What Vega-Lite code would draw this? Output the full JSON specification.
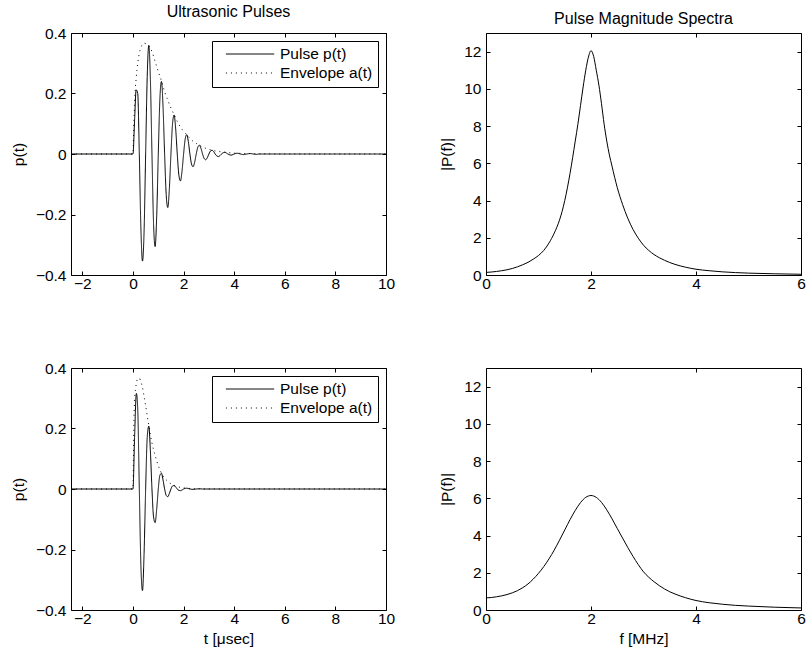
{
  "$schema": "https://vega.github.io/schema/vega-lite/v6.json",
  "background": "white",
  "padding": {"left": 10, "top": 3, "right": 0, "bottom": 0},
  "config": {
    "font": "Liberation Sans",
    "view": {"stroke": "black", "strokeWidth": 1},
    "axis": {"grid": false, "domain": false, "ticks": true, "tickSize": -4, "tickColor": "black", "tickWidth": 1,
      "labelFlush": false, "labelOverlap": false,
      "labelFont": "Liberation Sans", "labelFontSize": 15.5, "labelColor": "black",
      "titleFont": "Liberation Sans", "titleFontSize": 15.5, "titleFontWeight": "normal", "titleColor": "black"},
    "axisX": {"labelPadding": 5, "titlePadding": 5},
    "axisY": {"labelPadding": 9, "titlePadding": 9},
    "title": {"font": "Liberation Sans", "fontSize": 16, "fontWeight": "normal", "color": "black", "offset": 6},
    "legend": {"orient": "top-right", "offset": 8, "strokeColor": "black", "fillColor": "white", "padding": 5,
      "labelFont": "Liberation Sans", "labelFontSize": 15.5, "labelColor": "black", "labelLimit": 300,
      "symbolType": "M0.12,0H6.56", "symbolSize": 225, "symbolStrokeWidth": 1, "symbolStrokeColor": "black",
      "symbolFillColor": "transparent", "labelOffset": 47, "rowPadding": 2}
  },
  "datasets": {
    "pulseTop": [
      {"t": -2.45, "v": 0, "s": "Pulse p(t)"}, {"t": 0, "v": 0, "s": "Pulse p(t)"},
      {"t": 0.0625, "v": 0.11, "s": "Pulse p(t)"}, {"t": 0.125, "v": 0.212, "s": "Pulse p(t)"},
      {"t": 0.1875, "v": 0.2, "s": "Pulse p(t)"}, {"t": 0.25, "v": 0, "s": "Pulse p(t)"},
      {"t": 0.3125, "v": -0.245, "s": "Pulse p(t)"}, {"t": 0.375, "v": -0.354, "s": "Pulse p(t)"},
      {"t": 0.4375, "v": -0.259, "s": "Pulse p(t)"}, {"t": 0.5, "v": 0, "s": "Pulse p(t)"},
      {"t": 0.5625, "v": 0.256, "s": "Pulse p(t)"}, {"t": 0.625, "v": 0.359, "s": "Pulse p(t)"},
      {"t": 0.6875, "v": 0.248, "s": "Pulse p(t)"}, {"t": 0.75, "v": 0, "s": "Pulse p(t)"},
      {"t": 0.8125, "v": -0.229, "s": "Pulse p(t)"}, {"t": 0.875, "v": -0.306, "s": "Pulse p(t)"},
      {"t": 0.9375, "v": -0.204, "s": "Pulse p(t)"}, {"t": 1.0, "v": 0, "s": "Pulse p(t)"},
      {"t": 1.0625, "v": 0.18, "s": "Pulse p(t)"}, {"t": 1.125, "v": 0.24, "s": "Pulse p(t)"},
      {"t": 1.1875, "v": 0.157, "s": "Pulse p(t)"}, {"t": 1.25, "v": 0, "s": "Pulse p(t)"},
      {"t": 1.3125, "v": -0.134, "s": "Pulse p(t)"}, {"t": 1.375, "v": -0.177, "s": "Pulse p(t)"},
      {"t": 1.4375, "v": -0.115, "s": "Pulse p(t)"}, {"t": 1.5, "v": 0, "s": "Pulse p(t)"},
      {"t": 1.5625, "v": 0.099, "s": "Pulse p(t)"}, {"t": 1.625, "v": 0.129, "s": "Pulse p(t)"},
      {"t": 1.6875, "v": 0.083, "s": "Pulse p(t)"}, {"t": 1.75, "v": 0, "s": "Pulse p(t)"},
      {"t": 1.8125, "v": -0.069, "s": "Pulse p(t)"}, {"t": 1.875, "v": -0.089, "s": "Pulse p(t)"},
      {"t": 1.9375, "v": -0.057, "s": "Pulse p(t)"}, {"t": 2.0, "v": 0, "s": "Pulse p(t)"},
      {"t": 2.0625, "v": 0.049, "s": "Pulse p(t)"}, {"t": 2.125, "v": 0.064, "s": "Pulse p(t)"},
      {"t": 2.1875, "v": 0.041, "s": "Pulse p(t)"}, {"t": 2.25, "v": 0, "s": "Pulse p(t)"},
      {"t": 2.3125, "v": -0.033, "s": "Pulse p(t)"}, {"t": 2.375, "v": -0.042, "s": "Pulse p(t)"},
      {"t": 2.4375, "v": -0.027, "s": "Pulse p(t)"}, {"t": 2.5, "v": 0, "s": "Pulse p(t)"},
      {"t": 2.5625, "v": 0.0226, "s": "Pulse p(t)"}, {"t": 2.625, "v": 0.029, "s": "Pulse p(t)"},
      {"t": 2.6875, "v": 0.0184, "s": "Pulse p(t)"}, {"t": 2.75, "v": 0, "s": "Pulse p(t)"},
      {"t": 2.8125, "v": -0.0148, "s": "Pulse p(t)"}, {"t": 2.875, "v": -0.019, "s": "Pulse p(t)"},
      {"t": 2.9375, "v": -0.012, "s": "Pulse p(t)"}, {"t": 3.0, "v": 0, "s": "Pulse p(t)"},
      {"t": 3.0625, "v": 0.0099, "s": "Pulse p(t)"}, {"t": 3.125, "v": 0.0125, "s": "Pulse p(t)"},
      {"t": 3.1875, "v": 0.0078, "s": "Pulse p(t)"}, {"t": 3.25, "v": 0, "s": "Pulse p(t)"},
      {"t": 3.3125, "v": -0.0064, "s": "Pulse p(t)"}, {"t": 3.375, "v": -0.0085, "s": "Pulse p(t)"},
      {"t": 3.4375, "v": -0.0054, "s": "Pulse p(t)"}, {"t": 3.5, "v": 0, "s": "Pulse p(t)"},
      {"t": 3.625, "v": 0.0057, "s": "Pulse p(t)"}, {"t": 3.75, "v": 0, "s": "Pulse p(t)"},
      {"t": 3.875, "v": -0.0038, "s": "Pulse p(t)"}, {"t": 4.0, "v": 0, "s": "Pulse p(t)"},
      {"t": 4.125, "v": 0.0025, "s": "Pulse p(t)"}, {"t": 4.25, "v": 0, "s": "Pulse p(t)"},
      {"t": 4.375, "v": -0.002, "s": "Pulse p(t)"}, {"t": 4.5, "v": 0, "s": "Pulse p(t)"},
      {"t": 4.625, "v": 0.0016, "s": "Pulse p(t)"}, {"t": 4.75, "v": 0, "s": "Pulse p(t)"},
      {"t": 4.875, "v": -0.0012, "s": "Pulse p(t)"}, {"t": 5.0, "v": 0, "s": "Pulse p(t)"},
      {"t": 10, "v": 0, "s": "Pulse p(t)"},
      {"t": -2.45, "v": 0, "s": "Envelope a(t)"}, {"t": 0, "v": 0, "s": "Envelope a(t)"},
      {"t": 0.03, "v": 0.09, "s": "Envelope a(t)"}, {"t": 0.0625, "v": 0.17, "s": "Envelope a(t)"},
      {"t": 0.125, "v": 0.25, "s": "Envelope a(t)"}, {"t": 0.1875, "v": 0.3, "s": "Envelope a(t)"},
      {"t": 0.25, "v": 0.333, "s": "Envelope a(t)"}, {"t": 0.3125, "v": 0.352, "s": "Envelope a(t)"},
      {"t": 0.375, "v": 0.362, "s": "Envelope a(t)"}, {"t": 0.4375, "v": 0.366, "s": "Envelope a(t)"},
      {"t": 0.5, "v": 0.365, "s": "Envelope a(t)"}, {"t": 0.5625, "v": 0.362, "s": "Envelope a(t)"},
      {"t": 0.625, "v": 0.358, "s": "Envelope a(t)"}, {"t": 0.6875, "v": 0.35, "s": "Envelope a(t)"},
      {"t": 0.75, "v": 0.338, "s": "Envelope a(t)"}, {"t": 0.875, "v": 0.306, "s": "Envelope a(t)"},
      {"t": 1.0, "v": 0.272, "s": "Envelope a(t)"}, {"t": 1.125, "v": 0.242, "s": "Envelope a(t)"},
      {"t": 1.25, "v": 0.206, "s": "Envelope a(t)"}, {"t": 1.375, "v": 0.178, "s": "Envelope a(t)"},
      {"t": 1.5, "v": 0.152, "s": "Envelope a(t)"}, {"t": 1.625, "v": 0.13, "s": "Envelope a(t)"},
      {"t": 1.75, "v": 0.108, "s": "Envelope a(t)"}, {"t": 1.875, "v": 0.089, "s": "Envelope a(t)"},
      {"t": 2.0, "v": 0.075, "s": "Envelope a(t)"}, {"t": 2.125, "v": 0.064, "s": "Envelope a(t)"},
      {"t": 2.25, "v": 0.052, "s": "Envelope a(t)"}, {"t": 2.375, "v": 0.042, "s": "Envelope a(t)"},
      {"t": 2.5, "v": 0.035, "s": "Envelope a(t)"}, {"t": 2.625, "v": 0.029, "s": "Envelope a(t)"},
      {"t": 2.75, "v": 0.023, "s": "Envelope a(t)"}, {"t": 2.875, "v": 0.019, "s": "Envelope a(t)"},
      {"t": 3.0, "v": 0.0155, "s": "Envelope a(t)"}, {"t": 3.25, "v": 0.01, "s": "Envelope a(t)"},
      {"t": 3.5, "v": 0.007, "s": "Envelope a(t)"}, {"t": 3.75, "v": 0.0046, "s": "Envelope a(t)"},
      {"t": 4.0, "v": 0.003, "s": "Envelope a(t)"}, {"t": 4.5, "v": 0.0015, "s": "Envelope a(t)"},
      {"t": 5.0, "v": 0.0007, "s": "Envelope a(t)"}, {"t": 6.0, "v": 0.0001, "s": "Envelope a(t)"},
      {"t": 10, "v": 0, "s": "Envelope a(t)"}
    ],
    "pulseBottom": [
      {"t": -2.45, "v": 0, "s": "Pulse p(t)"}, {"t": 0, "v": 0, "s": "Pulse p(t)"},
      {"t": 0.0625, "v": 0.17, "s": "Pulse p(t)"}, {"t": 0.135, "v": 0.316, "s": "Pulse p(t)"},
      {"t": 0.1875, "v": 0.265, "s": "Pulse p(t)"}, {"t": 0.25, "v": 0, "s": "Pulse p(t)"},
      {"t": 0.3125, "v": -0.252, "s": "Pulse p(t)"}, {"t": 0.375, "v": -0.336, "s": "Pulse p(t)"},
      {"t": 0.4375, "v": -0.216, "s": "Pulse p(t)"}, {"t": 0.5, "v": 0, "s": "Pulse p(t)"},
      {"t": 0.5625, "v": 0.17, "s": "Pulse p(t)"}, {"t": 0.625, "v": 0.208, "s": "Pulse p(t)"},
      {"t": 0.6875, "v": 0.126, "s": "Pulse p(t)"}, {"t": 0.75, "v": 0, "s": "Pulse p(t)"},
      {"t": 0.8125, "v": -0.092, "s": "Pulse p(t)"}, {"t": 0.875, "v": -0.111, "s": "Pulse p(t)"},
      {"t": 0.9375, "v": -0.066, "s": "Pulse p(t)"}, {"t": 1.0, "v": 0, "s": "Pulse p(t)"},
      {"t": 1.0625, "v": 0.045, "s": "Pulse p(t)"}, {"t": 1.125, "v": 0.052, "s": "Pulse p(t)"},
      {"t": 1.1875, "v": 0.03, "s": "Pulse p(t)"}, {"t": 1.25, "v": 0, "s": "Pulse p(t)"},
      {"t": 1.3125, "v": -0.021, "s": "Pulse p(t)"}, {"t": 1.375, "v": -0.0255, "s": "Pulse p(t)"},
      {"t": 1.4375, "v": -0.0148, "s": "Pulse p(t)"}, {"t": 1.5, "v": 0, "s": "Pulse p(t)"},
      {"t": 1.5625, "v": 0.0099, "s": "Pulse p(t)"}, {"t": 1.625, "v": 0.0115, "s": "Pulse p(t)"},
      {"t": 1.6875, "v": 0.0067, "s": "Pulse p(t)"}, {"t": 1.75, "v": 0, "s": "Pulse p(t)"},
      {"t": 1.8125, "v": -0.0046, "s": "Pulse p(t)"}, {"t": 1.875, "v": -0.0054, "s": "Pulse p(t)"},
      {"t": 1.9375, "v": -0.0032, "s": "Pulse p(t)"}, {"t": 2.0, "v": 0, "s": "Pulse p(t)"},
      {"t": 2.125, "v": 0.0026, "s": "Pulse p(t)"}, {"t": 2.25, "v": 0, "s": "Pulse p(t)"},
      {"t": 2.375, "v": -0.0012, "s": "Pulse p(t)"}, {"t": 2.5, "v": 0, "s": "Pulse p(t)"},
      {"t": 2.625, "v": 0.0006, "s": "Pulse p(t)"}, {"t": 2.75, "v": 0, "s": "Pulse p(t)"},
      {"t": 10, "v": 0, "s": "Pulse p(t)"},
      {"t": -2.45, "v": 0, "s": "Envelope a(t)"}, {"t": 0, "v": 0, "s": "Envelope a(t)"},
      {"t": 0.03, "v": 0.2, "s": "Envelope a(t)"}, {"t": 0.0625, "v": 0.29, "s": "Envelope a(t)"},
      {"t": 0.125, "v": 0.345, "s": "Envelope a(t)"}, {"t": 0.1875, "v": 0.364, "s": "Envelope a(t)"},
      {"t": 0.25, "v": 0.366, "s": "Envelope a(t)"}, {"t": 0.3125, "v": 0.354, "s": "Envelope a(t)"},
      {"t": 0.375, "v": 0.336, "s": "Envelope a(t)"}, {"t": 0.4375, "v": 0.306, "s": "Envelope a(t)"},
      {"t": 0.5, "v": 0.276, "s": "Envelope a(t)"}, {"t": 0.5625, "v": 0.242, "s": "Envelope a(t)"},
      {"t": 0.625, "v": 0.21, "s": "Envelope a(t)"}, {"t": 0.6875, "v": 0.179, "s": "Envelope a(t)"},
      {"t": 0.75, "v": 0.152, "s": "Envelope a(t)"}, {"t": 0.8125, "v": 0.13, "s": "Envelope a(t)"},
      {"t": 0.875, "v": 0.111, "s": "Envelope a(t)"}, {"t": 0.9375, "v": 0.093, "s": "Envelope a(t)"},
      {"t": 1.0, "v": 0.077, "s": "Envelope a(t)"}, {"t": 1.0625, "v": 0.064, "s": "Envelope a(t)"},
      {"t": 1.125, "v": 0.052, "s": "Envelope a(t)"}, {"t": 1.25, "v": 0.036, "s": "Envelope a(t)"},
      {"t": 1.375, "v": 0.0255, "s": "Envelope a(t)"}, {"t": 1.5, "v": 0.017, "s": "Envelope a(t)"},
      {"t": 1.625, "v": 0.0115, "s": "Envelope a(t)"}, {"t": 1.75, "v": 0.008, "s": "Envelope a(t)"},
      {"t": 1.875, "v": 0.0054, "s": "Envelope a(t)"}, {"t": 2.0, "v": 0.0037, "s": "Envelope a(t)"},
      {"t": 2.25, "v": 0.0018, "s": "Envelope a(t)"}, {"t": 2.5, "v": 0.0008, "s": "Envelope a(t)"},
      {"t": 3.0, "v": 0.0002, "s": "Envelope a(t)"}, {"t": 10, "v": 0, "s": "Envelope a(t)"}
    ],
    "specTop": [
      {"f": 0.0, "m": 0.14}, {"f": 0.1, "m": 0.16}, {"f": 0.2, "m": 0.19}, {"f": 0.3, "m": 0.23},
      {"f": 0.4, "m": 0.28}, {"f": 0.5, "m": 0.35}, {"f": 0.6, "m": 0.44}, {"f": 0.7, "m": 0.55},
      {"f": 0.8, "m": 0.68}, {"f": 0.9, "m": 0.85}, {"f": 1.0, "m": 1.05}, {"f": 1.1, "m": 1.32},
      {"f": 1.2, "m": 1.72}, {"f": 1.3, "m": 2.25}, {"f": 1.4, "m": 2.95}, {"f": 1.45, "m": 3.42},
      {"f": 1.5, "m": 4.0}, {"f": 1.55, "m": 4.68}, {"f": 1.6, "m": 5.45}, {"f": 1.65, "m": 6.3},
      {"f": 1.7, "m": 7.2}, {"f": 1.75, "m": 8.1}, {"f": 1.8, "m": 9.1}, {"f": 1.85, "m": 10.1},
      {"f": 1.9, "m": 11.0}, {"f": 1.95, "m": 11.7}, {"f": 2.0, "m": 12.05}, {"f": 2.05, "m": 11.75},
      {"f": 2.1, "m": 11.0}, {"f": 2.15, "m": 10.2}, {"f": 2.2, "m": 9.2}, {"f": 2.25, "m": 8.1},
      {"f": 2.3, "m": 7.2}, {"f": 2.35, "m": 6.45}, {"f": 2.4, "m": 5.85}, {"f": 2.45, "m": 5.25},
      {"f": 2.5, "m": 4.7}, {"f": 2.6, "m": 3.8}, {"f": 2.7, "m": 3.05}, {"f": 2.8, "m": 2.45},
      {"f": 2.9, "m": 1.98}, {"f": 3.0, "m": 1.6}, {"f": 3.1, "m": 1.32}, {"f": 3.2, "m": 1.1},
      {"f": 3.3, "m": 0.93}, {"f": 3.4, "m": 0.79}, {"f": 3.5, "m": 0.67}, {"f": 3.6, "m": 0.57},
      {"f": 3.8, "m": 0.42}, {"f": 4.0, "m": 0.31}, {"f": 4.25, "m": 0.23}, {"f": 4.5, "m": 0.17},
      {"f": 4.75, "m": 0.13}, {"f": 5.0, "m": 0.1}, {"f": 5.5, "m": 0.065}, {"f": 6.0, "m": 0.04}
    ],
    "specBottom": [
      {"f": 0.0, "m": 0.65}, {"f": 0.1, "m": 0.67}, {"f": 0.2, "m": 0.71}, {"f": 0.3, "m": 0.76},
      {"f": 0.4, "m": 0.83}, {"f": 0.5, "m": 0.92}, {"f": 0.6, "m": 1.04}, {"f": 0.7, "m": 1.2},
      {"f": 0.8, "m": 1.4}, {"f": 0.9, "m": 1.66}, {"f": 1.0, "m": 1.97}, {"f": 1.1, "m": 2.33},
      {"f": 1.2, "m": 2.75}, {"f": 1.3, "m": 3.22}, {"f": 1.4, "m": 3.75}, {"f": 1.5, "m": 4.3},
      {"f": 1.6, "m": 4.85}, {"f": 1.7, "m": 5.35}, {"f": 1.8, "m": 5.77}, {"f": 1.9, "m": 6.05},
      {"f": 2.0, "m": 6.15}, {"f": 2.1, "m": 6.05}, {"f": 2.2, "m": 5.78}, {"f": 2.3, "m": 5.38},
      {"f": 2.4, "m": 4.9}, {"f": 2.5, "m": 4.38}, {"f": 2.6, "m": 3.87}, {"f": 2.7, "m": 3.36},
      {"f": 2.8, "m": 2.88}, {"f": 2.9, "m": 2.44}, {"f": 3.0, "m": 2.05}, {"f": 3.1, "m": 1.76},
      {"f": 3.2, "m": 1.52}, {"f": 3.3, "m": 1.31}, {"f": 3.4, "m": 1.13}, {"f": 3.5, "m": 0.98},
      {"f": 3.6, "m": 0.86}, {"f": 3.8, "m": 0.66}, {"f": 4.0, "m": 0.51}, {"f": 4.25, "m": 0.39},
      {"f": 4.5, "m": 0.31}, {"f": 4.75, "m": 0.25}, {"f": 5.0, "m": 0.21}, {"f": 5.5, "m": 0.15},
      {"f": 6.0, "m": 0.11}
    ]
  },
  "columns": 2,
  "spacing": {"row": 93, "column": 100},
  "bounds": "flush",
  "resolve": {"scale": {"strokeDash": "independent"}, "legend": {"strokeDash": "independent"}},
  "concat": [
    {
      "width": 315, "height": 242,
      "title": "Ultrasonic Pulses",
      "data": {"name": "pulseTop"},
      "layer": [
        {
          "transform": [{"filter": "datum.s === 'Pulse p(t)'"}],
          "mark": {"type": "line", "interpolate": "monotone", "strokeWidth": 1, "color": "black", "clip": true},
          "encoding": {
            "x": {"field": "t", "type": "quantitative", "scale": {"domain": [-2.45, 10], "nice": false, "zero": false},
              "axis": {"orient": "bottom", "values": [-2, 0, 2, 4, 6, 8, 10], "title": null}},
            "y": {"field": "v", "type": "quantitative", "scale": {"domain": [-0.4, 0.4], "nice": false},
              "axis": {"orient": "left", "values": [-0.4, -0.2, 0, 0.2, 0.4], "format": ".1~f", "title": "p(t)"}},
            "strokeDash": {"field": "s", "type": "nominal", "scale": {"domain": ["Pulse p(t)", "Envelope a(t)"], "range": [[1, 0], [1, 4]]},
              "legend": {"title": null}}
          }
        },
        {
          "transform": [{"filter": "datum.s === 'Envelope a(t)'"}],
          "mark": {"type": "line", "interpolate": "monotone", "strokeWidth": 1, "color": "black", "clip": true},
          "encoding": {
            "x": {"field": "t", "type": "quantitative", "axis": {"orient": "top", "values": [-2, 0, 2, 4, 6, 8, 10], "labels": false, "title": null}},
            "y": {"field": "v", "type": "quantitative", "axis": {"orient": "right", "values": [-0.4, -0.2, 0, 0.2, 0.4], "labels": false, "title": null}},
            "strokeDash": {"field": "s", "type": "nominal", "legend": {"title": null}}
          }
        }
      ],
      "resolve": {"axis": {"x": "independent", "y": "independent"}}
    },
    {
      "width": 315, "height": 242,
      "title": "Pulse Magnitude Spectra",
      "data": {"name": "specTop"},
      "layer": [
        {
          "mark": {"type": "line", "interpolate": "monotone", "strokeWidth": 1, "color": "black", "clip": true},
          "encoding": {
            "x": {"field": "f", "type": "quantitative", "scale": {"domain": [0, 6], "nice": false},
              "axis": {"orient": "bottom", "values": [0, 2, 4, 6], "title": null}},
            "y": {"field": "m", "type": "quantitative", "scale": {"domain": [0, 13], "nice": false},
              "axis": {"orient": "left", "values": [0, 2, 4, 6, 8, 10, 12], "title": "|P(f)|"}}
          }
        },
        {
          "mark": {"type": "line", "interpolate": "monotone", "opacity": 0},
          "encoding": {
            "x": {"field": "f", "type": "quantitative", "axis": {"orient": "top", "values": [0, 2, 4, 6], "labels": false, "title": null}},
            "y": {"field": "m", "type": "quantitative", "axis": {"orient": "right", "values": [0, 2, 4, 6, 8, 10, 12], "labels": false, "title": null}}
          }
        }
      ],
      "resolve": {"axis": {"x": "independent", "y": "independent"}}
    },
    {
      "width": 315, "height": 242,
      "data": {"name": "pulseBottom"},
      "layer": [
        {
          "transform": [{"filter": "datum.s === 'Pulse p(t)'"}],
          "mark": {"type": "line", "interpolate": "monotone", "strokeWidth": 1, "color": "black", "clip": true},
          "encoding": {
            "x": {"field": "t", "type": "quantitative", "scale": {"domain": [-2.45, 10], "nice": false, "zero": false},
              "axis": {"orient": "bottom", "values": [-2, 0, 2, 4, 6, 8, 10], "title": "t [μsec]"}},
            "y": {"field": "v", "type": "quantitative", "scale": {"domain": [-0.4, 0.4], "nice": false},
              "axis": {"orient": "left", "values": [-0.4, -0.2, 0, 0.2, 0.4], "format": ".1~f", "title": "p(t)"}},
            "strokeDash": {"field": "s", "type": "nominal", "scale": {"domain": ["Pulse p(t)", "Envelope a(t)"], "range": [[1, 0], [1, 4]]},
              "legend": {"title": null}}
          }
        },
        {
          "transform": [{"filter": "datum.s === 'Envelope a(t)'"}],
          "mark": {"type": "line", "interpolate": "monotone", "strokeWidth": 1, "color": "black", "clip": true},
          "encoding": {
            "x": {"field": "t", "type": "quantitative", "axis": {"orient": "top", "values": [-2, 0, 2, 4, 6, 8, 10], "labels": false, "title": null}},
            "y": {"field": "v", "type": "quantitative", "axis": {"orient": "right", "values": [-0.4, -0.2, 0, 0.2, 0.4], "labels": false, "title": null}},
            "strokeDash": {"field": "s", "type": "nominal", "legend": {"title": null}}
          }
        }
      ],
      "resolve": {"axis": {"x": "independent", "y": "independent"}}
    },
    {
      "width": 315, "height": 242,
      "data": {"name": "specBottom"},
      "layer": [
        {
          "mark": {"type": "line", "interpolate": "monotone", "strokeWidth": 1, "color": "black", "clip": true},
          "encoding": {
            "x": {"field": "f", "type": "quantitative", "scale": {"domain": [0, 6], "nice": false},
              "axis": {"orient": "bottom", "values": [0, 2, 4, 6], "title": "f [MHz]"}},
            "y": {"field": "m", "type": "quantitative", "scale": {"domain": [0, 13], "nice": false},
              "axis": {"orient": "left", "values": [0, 2, 4, 6, 8, 10, 12], "title": "|P(f)|"}}
          }
        },
        {
          "mark": {"type": "line", "interpolate": "monotone", "opacity": 0},
          "encoding": {
            "x": {"field": "f", "type": "quantitative", "axis": {"orient": "top", "values": [0, 2, 4, 6], "labels": false, "title": null}},
            "y": {"field": "m", "type": "quantitative", "axis": {"orient": "right", "values": [0, 2, 4, 6, 8, 10, 12], "labels": false, "title": null}}
          }
        }
      ],
      "resolve": {"axis": {"x": "independent", "y": "independent"}}
    }
  ]
}
